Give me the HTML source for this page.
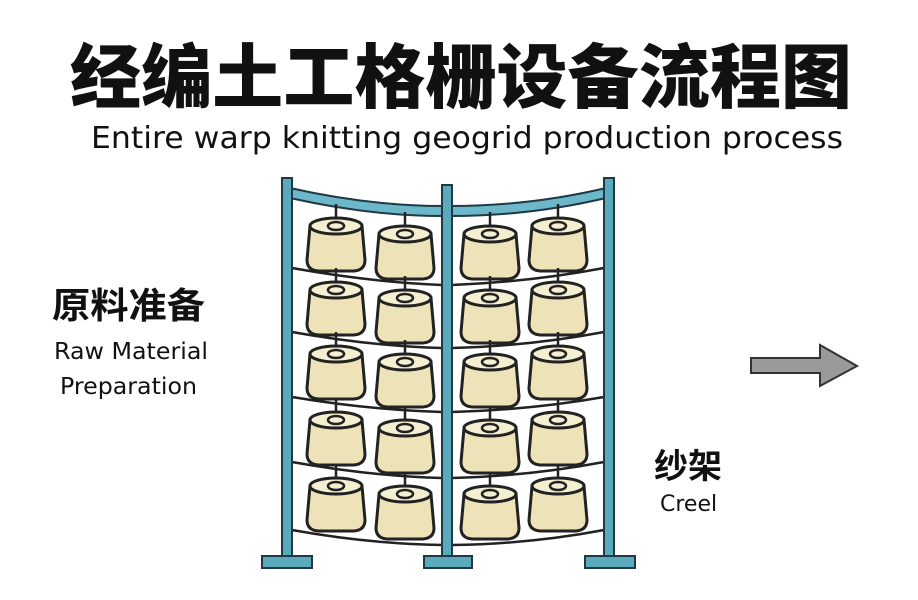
<!DOCTYPE html>
<html><head><meta charset="utf-8"><style>
body{margin:0;background:#fff;width:918px;height:600px;overflow:hidden}
svg{display:block}
</style></head><body>
<svg width="918" height="600" viewBox="0 0 918 600" xmlns="http://www.w3.org/2000/svg">
<defs>
<g id="sp">
<line x1="0" y1="-14" x2="0" y2="4" stroke="#222" stroke-width="2.5"/>
<path d="M-26,8 L-29,42 Q-29,52 -18,53 L18,53 Q29,52 29,42 L26,8 Z" fill="#eee3b8" stroke="#222" stroke-width="3"/>
<ellipse cx="0" cy="8" rx="26" ry="8" fill="#f5efd2" stroke="#222" stroke-width="3"/>
<ellipse cx="0" cy="8" rx="8" ry="4" fill="#f5efd2" stroke="#222" stroke-width="2.5"/>
</g>
</defs>
<text x="461" y="102" text-anchor="middle" font-family="'Noto Sans CJK SC',sans-serif" font-weight="900" font-size="70" fill="#111" textLength="782" lengthAdjust="spacingAndGlyphs">经编土工格栅设备流程图</text>
<text x="467" y="148" text-anchor="middle" font-family="'DejaVu Sans','Liberation Sans',sans-serif" font-size="30" fill="#111" textLength="752" lengthAdjust="spacingAndGlyphs">Entire warp knitting geogrid production process</text>
<text x="52" y="318" font-family="'Noto Sans CJK SC',sans-serif" font-weight="700" font-size="36" fill="#111" textLength="153" lengthAdjust="spacingAndGlyphs">原料准备</text>
<text x="54" y="359" font-family="'DejaVu Sans','Liberation Sans',sans-serif" font-size="23" fill="#111" textLength="154" lengthAdjust="spacingAndGlyphs">Raw Material</text>
<text x="60" y="394" font-family="'DejaVu Sans','Liberation Sans',sans-serif" font-size="23" fill="#111" textLength="137" lengthAdjust="spacingAndGlyphs">Preparation</text>
<text x="654" y="478" font-family="'Noto Sans CJK SC',sans-serif" font-weight="700" font-size="34" fill="#111">纱架</text>
<text x="660" y="511" font-family="'DejaVu Sans','Liberation Sans',sans-serif" font-size="22" fill="#111">Creel</text>
<g fill="none" stroke="#222" stroke-width="2.5">
<path d="M292,268 Q370,282 442,285 M452,285 Q530,282 604,268"/>
<path d="M292,332 Q370,346 442,348 M452,348 Q530,346 604,332"/>
<path d="M292,397 Q370,410 442,412 M452,412 Q530,410 604,397"/>
<path d="M292,462 Q370,476 442,478 M452,478 Q530,476 604,462"/>
<path d="M292,530 Q370,544 442,545 M452,545 Q530,544 604,530"/>
</g>
<path d="M290,188 Q370,206 444,206 L444,216 Q370,216 290,198 Z" fill="#6cb7c9" stroke="#1f3a44" stroke-width="2"/>
<path d="M450,206 Q530,206 606,188 L606,198 Q530,216 450,216 Z" fill="#6cb7c9" stroke="#1f3a44" stroke-width="2"/>
<g fill="#5aa9bd" stroke="#1f3a44" stroke-width="2">
<rect x="282" y="178" width="10" height="380"/>
<rect x="442" y="185" width="10" height="373"/>
<rect x="604" y="178" width="10" height="380"/>
<rect x="262" y="556" width="50" height="12"/>
<rect x="424" y="556" width="48" height="12"/>
<rect x="585" y="556" width="50" height="12"/>
</g>
<g>
<use href="#sp" x="336" y="218"/><use href="#sp" x="405" y="226"/><use href="#sp" x="490" y="226"/><use href="#sp" x="558" y="218"/>
<use href="#sp" x="336" y="282"/><use href="#sp" x="405" y="290"/><use href="#sp" x="490" y="290"/><use href="#sp" x="558" y="282"/>
<use href="#sp" x="336" y="346"/><use href="#sp" x="405" y="354"/><use href="#sp" x="490" y="354"/><use href="#sp" x="558" y="346"/>
<use href="#sp" x="336" y="412"/><use href="#sp" x="405" y="420"/><use href="#sp" x="490" y="420"/><use href="#sp" x="558" y="412"/>
<use href="#sp" x="336" y="478"/><use href="#sp" x="405" y="486"/><use href="#sp" x="490" y="486"/><use href="#sp" x="558" y="478"/>
</g>
<path d="M751,358 L820,358 L820,345 L857,366 L820,386 L820,373 L751,373 Z" fill="#9a9a9a" stroke="#333" stroke-width="2"/>
</svg>
</body></html>
